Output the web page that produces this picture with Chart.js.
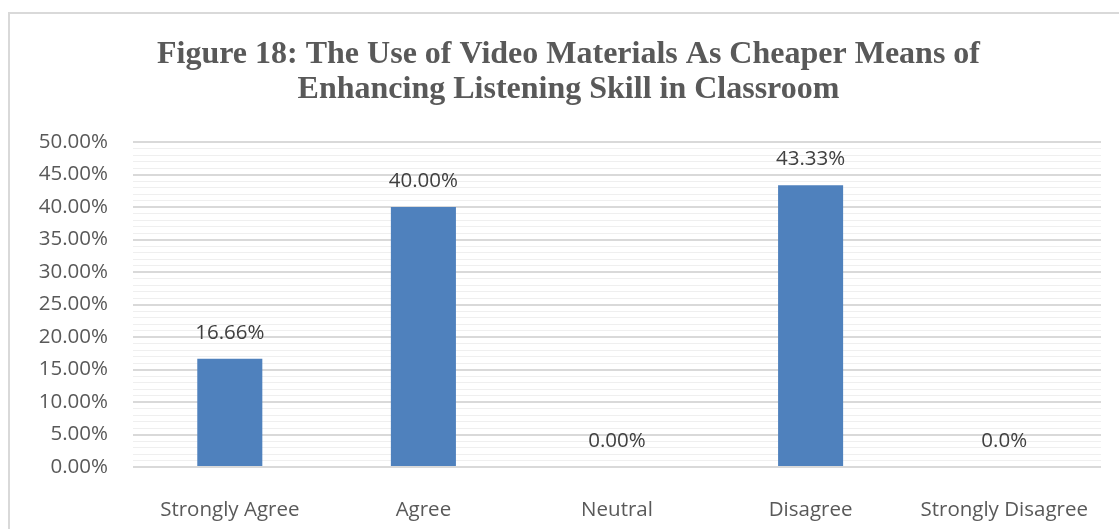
<!DOCTYPE html>
<html>
<head>
<meta charset="utf-8">
<script src="https://cdn.jsdelivr.net/npm/chart.js@4"></script>
<style>
  html, body { margin: 0; padding: 0; background: #fff; overflow: hidden; }
  #frame {
    position: absolute; left: 8px; top: 12px;
    width: 1120px; height: 540px;
    border: 2px solid #d9d9d9;
  }
  #wrap { position: absolute; left: 26px; top: 0; width: 1065px; height: 515px; }
</style>
</head>
<body>
<div id="frame"><div id="wrap"><canvas id="survey-chart"></canvas></div></div>
<script>
// Responses, in percent
const categories = ['Strongly Agree', 'Agree', 'Neutral', 'Disagree', 'Strongly Disagree'];
const percentages = [16.66, 40.00, 0.00, 43.33, 0.00];
const labelDecimals = [2, 2, 2, 2, 1];
const titleLines = ['Figure 18: The Use of Video Materials As Cheaper Means of',
                    'Enhancing Listening Skill in Classroom'];

const labelFont = 'Open Sans';
const labelSize = 20.5;

// value labels above each bar
const valueLabels = {
    id: 'valueLabels',
    afterDatasetsDraw(chart) {
        const ctx = chart.ctx;
        const meta = chart.getDatasetMeta(0);
        ctx.save();
        ctx.font = labelSize + 'px "' + labelFont + '"';
        ctx.fillStyle = '#404040';
        ctx.textAlign = 'center';
        ctx.textBaseline = 'middle';
        meta.data.forEach(function (bar, i) {
            const txt = percentages[i].toFixed(labelDecimals[i]) + '%';
            ctx.fillText(txt, bar.x, bar.y - 26);
        });
        ctx.restore();
    }
};

const ctx = document.getElementById('survey-chart').getContext('2d');
const surveyChart = new Chart(ctx, {
    type: 'bar',
    data: {
        labels: categories,
        datasets: [{
            data: percentages,
            backgroundColor: '#4f81bd',
            barPercentage: 0.336,
            categoryPercentage: 1.0
        }]
    },
    options: {
        responsive: true,
        maintainAspectRatio: false,
        animation: false,
        layout: { padding: 0 },
        plugins: {
            legend: { display: false },
            tooltip: { enabled: false },
            title: {
                display: true,
                text: titleLines,
                color: '#595959',
                font: { family: 'Liberation Serif', size: 32, weight: 'bold', lineHeight: 1.094 },
                padding: { top: 23.5, bottom: 34.5 }
            }
        },
        scales: {
            x: {
                grid: { display: false, drawTicks: false },
                border: { display: false },
                ticks: {
                    color: '#595959',
                    font: { family: labelFont, size: labelSize },
                    padding: 31,
                    maxRotation: 0,
                    autoSkip: false
                },
                afterFit(scale) {
                    scale.height = 62;
                    scale.paddingLeft = 0;
                    scale.paddingRight = 0;
                }
            },
            y: {
                min: 0,
                max: 50,
                border: { display: false },
                grid: {
                    drawTicks: false,
                    color: c => (c.tick.value % 5 === 0 ? '#d9d9d9' : '#efefef'),
                    lineWidth: c => (c.tick.value % 5 === 0 ? 2 : 1)
                },
                ticks: {
                    stepSize: 1,
                    autoSkip: false,
                    color: '#595959',
                    font: { family: labelFont, size: labelSize },
                    padding: 25,
                    callback: v => (v % 5 === 0 ? v.toFixed(2) + '%' : '')
                },
                afterFit(scale) { scale.width = 97; }
            }
        }
    },
    plugins: [valueLabels]
});
</script>
</body>
</html>
